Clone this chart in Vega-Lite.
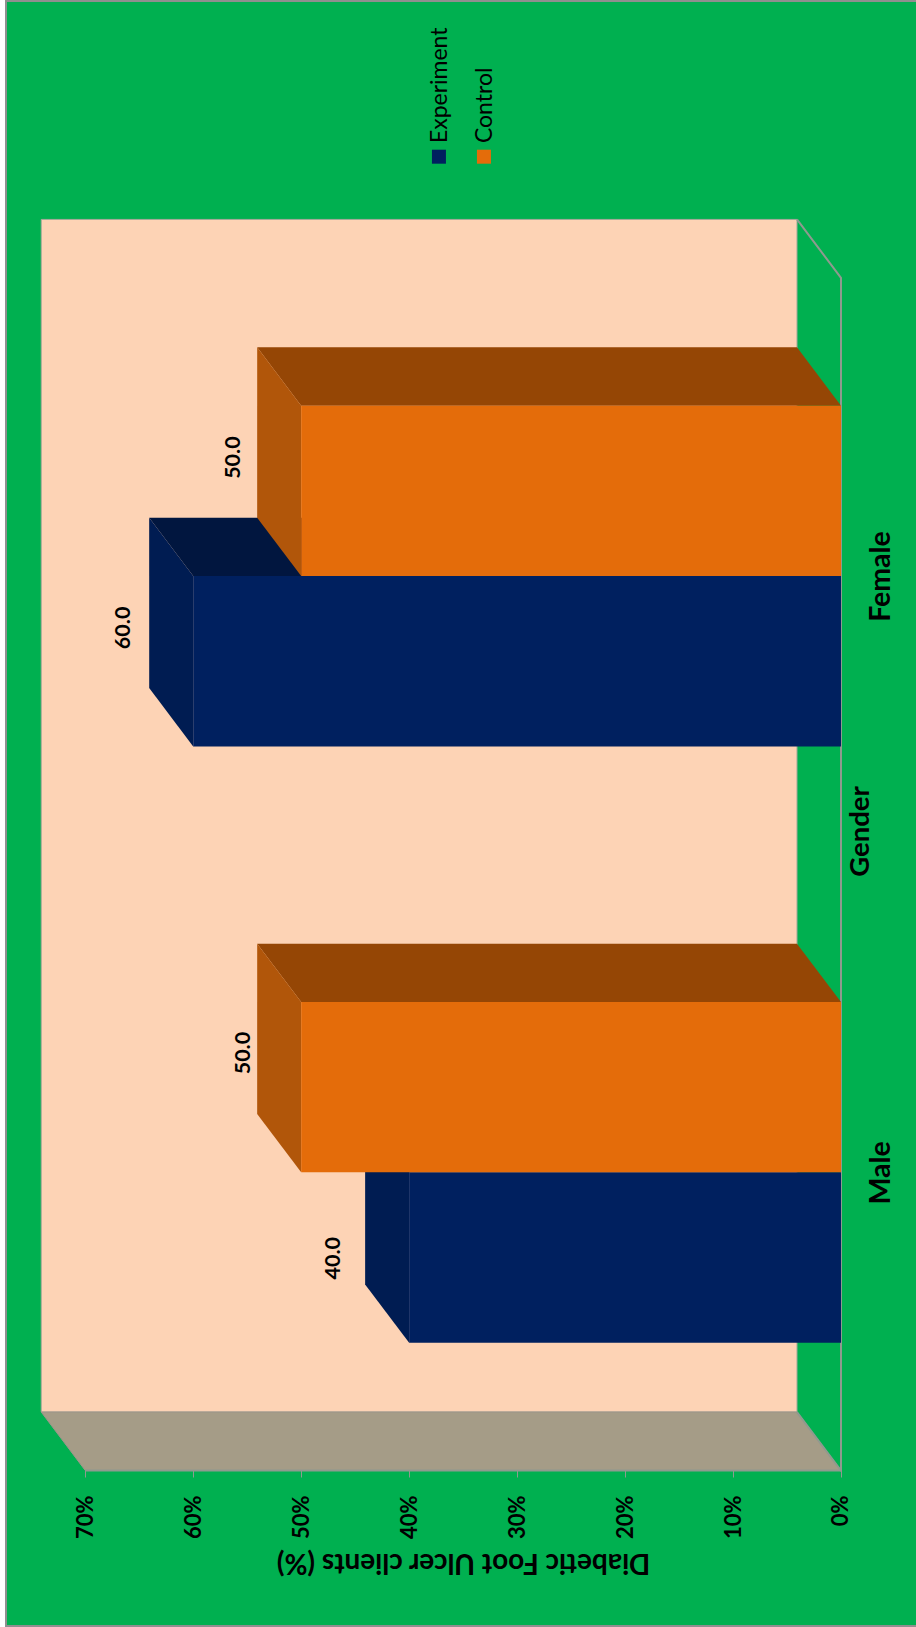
{
  "$schema": "https://vega.github.io/schema/vega-lite/v6.json",
  "autosize": {"type": "none"},
  "padding": {"left": 6, "top": 1, "right": 0, "bottom": 1},
  "width": 911,
  "height": 1625,
  "background": "#ffffff",
  "view": {"fill": "#00B050", "stroke": "#8f8f8f", "strokeWidth": 2},
  "config": {"font": "Lato"},
  "datasets": {
    "bars": [
      {"gender": "Male", "series": "Experiment", "value": 40, "posLow": 0.7143, "posHigh": 1, "labelPct": 46.95, "labelPos": 0.856},
      {"gender": "Male", "series": "Control", "value": 50, "posLow": 1, "posHigh": 1.2857, "labelPct": 55.29, "labelPos": 1.2},
      {"gender": "Female", "series": "Experiment", "value": 60, "posLow": 1.7143, "posHigh": 2, "labelPct": 66.45, "labelPos": 1.913},
      {"gender": "Female", "series": "Control", "value": 50, "posLow": 2, "posHigh": 2.2857, "labelPct": 56.21, "labelPos": 2.1986}
    ],
    "sideFaces": [
      {"face": "male-exp", "tone": "Experiment side", "pos": 1, "low": 0, "high": 40},
      {"face": "male-exp", "tone": "Experiment side", "pos": 1.0978, "low": 4.076, "high": 44.076},
      {"face": "male-ctl", "tone": "Control side", "pos": 1.2857, "low": 0, "high": 50},
      {"face": "male-ctl", "tone": "Control side", "pos": 1.3835, "low": 4.076, "high": 54.076},
      {"face": "female-exp", "tone": "Experiment side", "pos": 2, "low": 0, "high": 60},
      {"face": "female-exp", "tone": "Experiment side", "pos": 2.0978, "low": 4.076, "high": 64.076},
      {"face": "female-ctl", "tone": "Control side", "pos": 2.2857, "low": 0, "high": 50},
      {"face": "female-ctl", "tone": "Control side", "pos": 2.3835, "low": 4.076, "high": 54.076}
    ],
    "endFaces": [
      {"face": "male-exp", "tone": "Experiment end", "pct": 40, "low": 0.7143, "high": 1},
      {"face": "male-exp", "tone": "Experiment end", "pct": 44.076, "low": 0.8121, "high": 1.0978},
      {"face": "male-ctl", "tone": "Control end", "pct": 50, "low": 1, "high": 1.2857},
      {"face": "male-ctl", "tone": "Control end", "pct": 54.076, "low": 1.0978, "high": 1.3835},
      {"face": "female-exp", "tone": "Experiment end", "pct": 60, "low": 1.7143, "high": 2},
      {"face": "female-exp", "tone": "Experiment end", "pct": 64.076, "low": 1.8121, "high": 2.0978},
      {"face": "female-ctl", "tone": "Control end", "pct": 50, "low": 2, "high": 2.2857},
      {"face": "female-ctl", "tone": "Control end", "pct": 54.076, "low": 2.0978, "high": 2.3835}
    ],
    "sideWall": [
      {"pos": 0.5, "low": 0, "high": 70},
      {"pos": 0.598, "low": 4.076, "high": 74.076}
    ],
    "edges": [
      {"edge": "floor", "seq": 1, "pct": 4.076, "pos": 2.598},
      {"edge": "floor", "seq": 2, "pct": 0, "pos": 2.5},
      {"edge": "floor", "seq": 3, "pct": 0, "pos": 0.5},
      {"edge": "floor", "seq": 4, "pct": 4.076, "pos": 0.598},
      {"edge": "base", "seq": 1, "pct": 0, "pos": 0.5},
      {"edge": "base", "seq": 2, "pct": 70, "pos": 0.5}
    ],
    "legend": [
      {"series": "Experiment", "markPct": 37.24, "markPos": 2.7032, "textPct": 37.13, "textPos": 2.726},
      {"series": "Control", "markPct": 33.07, "markPos": 2.7032, "textPct": 33.0, "textPos": 2.726}
    ]
  },
  "encoding": {
    "x": {"type": "quantitative", "scale": {"domain": [-7.04, 77.34], "reverse": true, "nice": false, "zero": false}},
    "y": {"type": "quantitative", "scale": {"domain": [0.2392, 2.9643], "nice": false, "zero": false}}
  },
  "layer": [
    {
      "description": "Back wall",
      "data": {"values": [{"pctLow": 4.076, "pctHigh": 74.076, "posLow": 0.598, "posHigh": 2.598}]},
      "mark": {"type": "rect", "fill": "#FDD3B5", "stroke": "#a8a89a", "strokeWidth": 1},
      "encoding": {
        "x": {"field": "pctLow", "type": "quantitative",
          "axis": {
            "orient": "bottom", "offset": -156, "values": [0, 10, 20, 30, 40, 50, 60, 70],
            "labelExpr": "datum.value + '%'", "labelAngle": -90, "labelFontSize": 22, "labelFontWeight": "bold",
            "labelColor": "#000000", "labelPadding": 18, "tickSize": 7, "tickColor": "#8f9a8f", "domain": false, "grid": false,
            "labelOverlap": false, "labelBound": false, "labelFlush": false,
            "title": "Diabetic Foot Ulcer clients (%)", "titleAngle": 180, "titleFontSize": 28, "titleFontWeight": "bold",
            "titleColor": "#000000", "titleAlign": "center", "titleBaseline": "middle", "titleX": 457, "titleY": 91
          }
        },
        "x2": {"field": "pctHigh"},
        "y": {"field": "posLow", "type": "quantitative",
          "axis": {
            "orient": "right", "offset": -76, "values": [1, 2], "labelExpr": "datum.value === 1 ? 'Male' : 'Female'",
            "labelAngle": -90, "labelAlign": "center", "labelBaseline": "middle", "labelFontSize": 28.5, "labelFontWeight": "bold",
            "labelColor": "#000000", "labelPadding": 39, "ticks": false, "domain": false, "grid": false, "labelOverlap": false,
            "labelBound": false, "labelFlush": false,
            "title": "Gender", "titleAngle": -90, "titleFontSize": 27.5, "titleFontWeight": "bold", "titleColor": "#000000",
            "titleAlign": "center", "titleBaseline": "middle", "titleX": 19, "titleY": 830
          }
        },
        "y2": {"field": "posHigh"}
      }
    },
    {
      "description": "Side wall",
      "data": {"name": "sideWall"},
      "mark": {"type": "area", "orient": "horizontal", "fill": "#A59C87", "stroke": "#9c958a", "strokeWidth": 1},
      "encoding": {
        "y": {"field": "pos", "type": "quantitative"},
        "x": {"field": "low", "type": "quantitative"},
        "x2": {"field": "high"}
      }
    },
    {
      "description": "Floor outline and value baseline",
      "data": {"name": "edges"},
      "mark": {"type": "line", "stroke": "#8f9a8f", "strokeWidth": 2},
      "encoding": {
        "x": {"field": "pct", "type": "quantitative"},
        "y": {"field": "pos", "type": "quantitative"},
        "detail": {"field": "edge"},
        "order": {"field": "seq"}
      }
    },
    {
      "description": "Long side faces of the bars",
      "data": {"name": "sideFaces"},
      "mark": {"type": "area", "orient": "horizontal"},
      "encoding": {
        "y": {"field": "pos", "type": "quantitative"},
        "x": {"field": "low", "type": "quantitative"},
        "x2": {"field": "high"},
        "detail": {"field": "face"},
        "color": {"field": "tone", "type": "nominal", "legend": null,
          "scale": {
            "domain": ["Experiment", "Control", "Experiment end", "Control end", "Experiment side", "Control side"],
            "range": ["#00205F", "#E46C0A", "#001C52", "#B1560A", "#01163F", "#954605"]
          }
        }
      }
    },
    {
      "description": "End faces of the bars",
      "data": {"name": "endFaces"},
      "mark": {"type": "area", "orient": "vertical"},
      "encoding": {
        "x": {"field": "pct", "type": "quantitative"},
        "y": {"field": "low", "type": "quantitative"},
        "y2": {"field": "high"},
        "detail": {"field": "face"},
        "color": {"field": "tone", "type": "nominal", "legend": null}
      }
    },
    {
      "description": "Front faces of the bars",
      "data": {"name": "bars"},
      "mark": {"type": "rect"},
      "encoding": {
        "x": {"field": "value", "type": "quantitative"},
        "x2": {"datum": 0},
        "y": {"field": "posLow", "type": "quantitative"},
        "y2": {"field": "posHigh"},
        "color": {"field": "series", "type": "nominal", "legend": null}
      }
    },
    {
      "description": "Value labels",
      "data": {"name": "bars"},
      "mark": {"type": "text", "angle": 270, "fontSize": 21.5, "fontWeight": "bold", "align": "center", "baseline": "middle", "color": "#000000"},
      "encoding": {
        "x": {"field": "labelPct", "type": "quantitative"},
        "y": {"field": "labelPos", "type": "quantitative"},
        "text": {"field": "value", "type": "quantitative", "format": ".1f"}
      }
    },
    {
      "description": "Series key swatches",
      "data": {"name": "legend"},
      "mark": {"type": "point", "shape": "square", "filled": true, "size": 196, "opacity": 1},
      "encoding": {
        "x": {"field": "markPct", "type": "quantitative"},
        "y": {"field": "markPos", "type": "quantitative"},
        "color": {"field": "series", "type": "nominal", "legend": null}
      }
    },
    {
      "description": "Series key names",
      "data": {"name": "legend"},
      "mark": {"type": "text", "angle": 270, "fontSize": 23, "align": "left", "baseline": "middle", "color": "#000000"},
      "encoding": {
        "x": {"field": "textPct", "type": "quantitative"},
        "y": {"field": "textPos", "type": "quantitative"},
        "text": {"field": "series"}
      }
    }
  ]
}
